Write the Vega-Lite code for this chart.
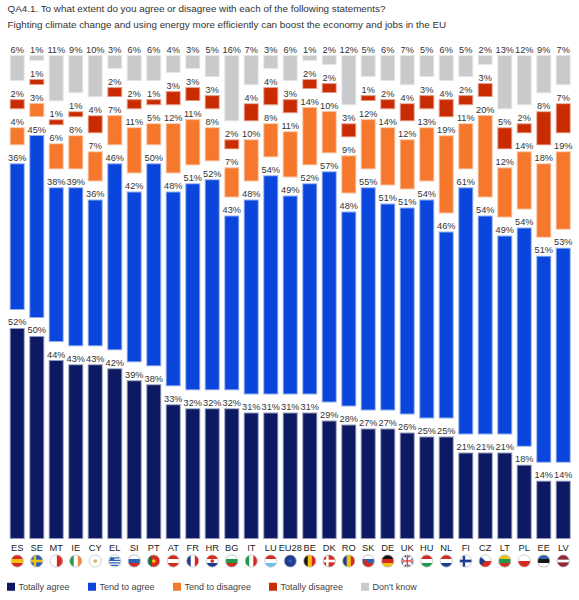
{"$schema":"https://vega.github.io/schema/vega-lite/v6.json","width":565.5,"height":482,"autosize":"none","padding":{"left":7.5,"top":56,"right":6,"bottom":62},"background":"white",
"title":{"text":["QA4.1. To what extent do you agree or disagree with each of the following statements?","Fighting climate change and using energy more efficiently can boost the economy and jobs in the EU"],"anchor":"start","frame":"group","offset":26,"dy":10,"fontSize":9.85,"fontWeight":"normal","font":"Liberation Sans","color":"#333333","lineHeight":16},
"config":{"view":{"stroke":null},"font":"Liberation Sans"},
"datasets":{
"answers":[
{"code":"ES","response":"Totally agree","value":52},{"code":"ES","response":"Tend to agree","value":36},{"code":"ES","response":"Tend to disagree","value":4},{"code":"ES","response":"Totally disagree","value":2},{"code":"ES","response":"Don't know","value":6},
{"code":"SE","response":"Totally agree","value":50},{"code":"SE","response":"Tend to agree","value":45},{"code":"SE","response":"Tend to disagree","value":3},{"code":"SE","response":"Totally disagree","value":1},{"code":"SE","response":"Don't know","value":1},
{"code":"MT","response":"Totally agree","value":44},{"code":"MT","response":"Tend to agree","value":38},{"code":"MT","response":"Tend to disagree","value":6},{"code":"MT","response":"Totally disagree","value":1},{"code":"MT","response":"Don't know","value":11},
{"code":"IE","response":"Totally agree","value":43},{"code":"IE","response":"Tend to agree","value":39},{"code":"IE","response":"Tend to disagree","value":8},{"code":"IE","response":"Totally disagree","value":1},{"code":"IE","response":"Don't know","value":9},
{"code":"CY","response":"Totally agree","value":43},{"code":"CY","response":"Tend to agree","value":36},{"code":"CY","response":"Tend to disagree","value":7},{"code":"CY","response":"Totally disagree","value":4},{"code":"CY","response":"Don't know","value":10},
{"code":"EL","response":"Totally agree","value":42},{"code":"EL","response":"Tend to agree","value":46},{"code":"EL","response":"Tend to disagree","value":7},{"code":"EL","response":"Totally disagree","value":2},{"code":"EL","response":"Don't know","value":3},
{"code":"SI","response":"Totally agree","value":39},{"code":"SI","response":"Tend to agree","value":42},{"code":"SI","response":"Tend to disagree","value":11},{"code":"SI","response":"Totally disagree","value":2},{"code":"SI","response":"Don't know","value":6},
{"code":"PT","response":"Totally agree","value":38},{"code":"PT","response":"Tend to agree","value":50},{"code":"PT","response":"Tend to disagree","value":5},{"code":"PT","response":"Totally disagree","value":1},{"code":"PT","response":"Don't know","value":6},
{"code":"AT","response":"Totally agree","value":33},{"code":"AT","response":"Tend to agree","value":48},{"code":"AT","response":"Tend to disagree","value":12},{"code":"AT","response":"Totally disagree","value":3},{"code":"AT","response":"Don't know","value":4},
{"code":"FR","response":"Totally agree","value":32},{"code":"FR","response":"Tend to agree","value":51},{"code":"FR","response":"Tend to disagree","value":11},{"code":"FR","response":"Totally disagree","value":3},{"code":"FR","response":"Don't know","value":3},
{"code":"HR","response":"Totally agree","value":32},{"code":"HR","response":"Tend to agree","value":52},{"code":"HR","response":"Tend to disagree","value":8},{"code":"HR","response":"Totally disagree","value":3},{"code":"HR","response":"Don't know","value":5},
{"code":"BG","response":"Totally agree","value":32},{"code":"BG","response":"Tend to agree","value":43},{"code":"BG","response":"Tend to disagree","value":7},{"code":"BG","response":"Totally disagree","value":2},{"code":"BG","response":"Don't know","value":16},
{"code":"IT","response":"Totally agree","value":31},{"code":"IT","response":"Tend to agree","value":48},{"code":"IT","response":"Tend to disagree","value":10},{"code":"IT","response":"Totally disagree","value":4},{"code":"IT","response":"Don't know","value":7},
{"code":"LU","response":"Totally agree","value":31},{"code":"LU","response":"Tend to agree","value":54},{"code":"LU","response":"Tend to disagree","value":8},{"code":"LU","response":"Totally disagree","value":4},{"code":"LU","response":"Don't know","value":3},
{"code":"EU28","response":"Totally agree","value":31},{"code":"EU28","response":"Tend to agree","value":49},{"code":"EU28","response":"Tend to disagree","value":11},{"code":"EU28","response":"Totally disagree","value":3},{"code":"EU28","response":"Don't know","value":6},
{"code":"BE","response":"Totally agree","value":31},{"code":"BE","response":"Tend to agree","value":52},{"code":"BE","response":"Tend to disagree","value":14},{"code":"BE","response":"Totally disagree","value":2},{"code":"BE","response":"Don't know","value":1},
{"code":"DK","response":"Totally agree","value":29},{"code":"DK","response":"Tend to agree","value":57},{"code":"DK","response":"Tend to disagree","value":10},{"code":"DK","response":"Totally disagree","value":2},{"code":"DK","response":"Don't know","value":2},
{"code":"RO","response":"Totally agree","value":28},{"code":"RO","response":"Tend to agree","value":48},{"code":"RO","response":"Tend to disagree","value":9},{"code":"RO","response":"Totally disagree","value":3},{"code":"RO","response":"Don't know","value":12},
{"code":"SK","response":"Totally agree","value":27},{"code":"SK","response":"Tend to agree","value":55},{"code":"SK","response":"Tend to disagree","value":12},{"code":"SK","response":"Totally disagree","value":1},{"code":"SK","response":"Don't know","value":5},
{"code":"DE","response":"Totally agree","value":27},{"code":"DE","response":"Tend to agree","value":51},{"code":"DE","response":"Tend to disagree","value":14},{"code":"DE","response":"Totally disagree","value":2},{"code":"DE","response":"Don't know","value":6},
{"code":"UK","response":"Totally agree","value":26},{"code":"UK","response":"Tend to agree","value":51},{"code":"UK","response":"Tend to disagree","value":12},{"code":"UK","response":"Totally disagree","value":4},{"code":"UK","response":"Don't know","value":7},
{"code":"HU","response":"Totally agree","value":25},{"code":"HU","response":"Tend to agree","value":54},{"code":"HU","response":"Tend to disagree","value":13},{"code":"HU","response":"Totally disagree","value":3},{"code":"HU","response":"Don't know","value":5},
{"code":"NL","response":"Totally agree","value":25},{"code":"NL","response":"Tend to agree","value":46},{"code":"NL","response":"Tend to disagree","value":19},{"code":"NL","response":"Totally disagree","value":4},{"code":"NL","response":"Don't know","value":6},
{"code":"FI","response":"Totally agree","value":21},{"code":"FI","response":"Tend to agree","value":61},{"code":"FI","response":"Tend to disagree","value":11},{"code":"FI","response":"Totally disagree","value":2},{"code":"FI","response":"Don't know","value":5},
{"code":"CZ","response":"Totally agree","value":21},{"code":"CZ","response":"Tend to agree","value":54},{"code":"CZ","response":"Tend to disagree","value":20},{"code":"CZ","response":"Totally disagree","value":3},{"code":"CZ","response":"Don't know","value":2},
{"code":"LT","response":"Totally agree","value":21},{"code":"LT","response":"Tend to agree","value":49},{"code":"LT","response":"Tend to disagree","value":12},{"code":"LT","response":"Totally disagree","value":5},{"code":"LT","response":"Don't know","value":13},
{"code":"PL","response":"Totally agree","value":18},{"code":"PL","response":"Tend to agree","value":54},{"code":"PL","response":"Tend to disagree","value":14},{"code":"PL","response":"Totally disagree","value":2},{"code":"PL","response":"Don't know","value":12},
{"code":"EE","response":"Totally agree","value":14},{"code":"EE","response":"Tend to agree","value":51},{"code":"EE","response":"Tend to disagree","value":18},{"code":"EE","response":"Totally disagree","value":8},{"code":"EE","response":"Don't know","value":9},
{"code":"LV","response":"Totally agree","value":14},{"code":"LV","response":"Tend to agree","value":53},{"code":"LV","response":"Tend to disagree","value":19},{"code":"LV","response":"Totally disagree","value":7},{"code":"LV","response":"Don't know","value":7}],
"flags":[
{"code":"ES","part":"disc","hue":"yellow"},{"code":"ES","part":"top","hue":"red"},{"code":"ES","part":"bottom","hue":"red"},
{"code":"SE","part":"disc","hue":"blue"},{"code":"SE","part":"hbar","hue":"yellow"},{"code":"SE","part":"vnordic","hue":"yellow"},
{"code":"MT","part":"disc","hue":"white"},{"code":"MT","part":"rhalf","hue":"red"},
{"code":"IE","part":"disc","hue":"white"},{"code":"IE","part":"left","hue":"green"},{"code":"IE","part":"right","hue":"orange"},
{"code":"CY","part":"disc","hue":"white"},{"code":"CY","part":"dot","hue":"sand"},
{"code":"EL","part":"disc","hue":"white"},{"code":"EL","part":"stripes","hue":"blue"},
{"code":"SI","part":"disc","hue":"blue"},{"code":"SI","part":"top","hue":"white"},{"code":"SI","part":"bottom","hue":"red"},
{"code":"PT","part":"disc","hue":"red"},{"code":"PT","part":"left","hue":"darkgreen"},{"code":"PT","part":"dot","hue":"yellow"},
{"code":"AT","part":"disc","hue":"white"},{"code":"AT","part":"top","hue":"red"},{"code":"AT","part":"bottom","hue":"red"},
{"code":"FR","part":"disc","hue":"white"},{"code":"FR","part":"left","hue":"navy"},{"code":"FR","part":"right","hue":"red"},
{"code":"HR","part":"disc","hue":"white"},{"code":"HR","part":"top","hue":"red"},{"code":"HR","part":"bottom","hue":"navy"},{"code":"HR","part":"dot","hue":"red"},
{"code":"BG","part":"disc","hue":"green"},{"code":"BG","part":"top","hue":"white"},{"code":"BG","part":"bottom","hue":"red"},
{"code":"IT","part":"disc","hue":"white"},{"code":"IT","part":"left","hue":"green"},{"code":"IT","part":"right","hue":"red"},
{"code":"LU","part":"disc","hue":"white"},{"code":"LU","part":"top","hue":"red"},{"code":"LU","part":"bottom","hue":"sky"},
{"code":"EU28","part":"disc","hue":"navy"},{"code":"EU28","part":"dot","hue":"blue"},
{"code":"BE","part":"disc","hue":"yellow"},{"code":"BE","part":"left","hue":"black"},{"code":"BE","part":"right","hue":"red"},
{"code":"DK","part":"disc","hue":"red"},{"code":"DK","part":"hbar","hue":"white"},{"code":"DK","part":"vnordic","hue":"white"},
{"code":"RO","part":"disc","hue":"yellow"},{"code":"RO","part":"left","hue":"navy"},{"code":"RO","part":"right","hue":"red"},
{"code":"SK","part":"disc","hue":"blue"},{"code":"SK","part":"top","hue":"white"},{"code":"SK","part":"bottom","hue":"red"},{"code":"SK","part":"lowdot","hue":"red"},
{"code":"DE","part":"disc","hue":"red"},{"code":"DE","part":"top","hue":"black"},{"code":"DE","part":"bottom","hue":"yellow"},
{"code":"UK","part":"disc","hue":"navy"},{"code":"UK","part":"xcross","hue":"white"},{"code":"UK","part":"hbar","hue":"white"},{"code":"UK","part":"vmid","hue":"white"},{"code":"UK","part":"hthin","hue":"red"},{"code":"UK","part":"vthin","hue":"red"},
{"code":"HU","part":"disc","hue":"white"},{"code":"HU","part":"top","hue":"red"},{"code":"HU","part":"bottom","hue":"green"},
{"code":"NL","part":"disc","hue":"white"},{"code":"NL","part":"top","hue":"red"},{"code":"NL","part":"bottom","hue":"navy"},
{"code":"FI","part":"disc","hue":"white"},{"code":"FI","part":"hbar","hue":"navy"},{"code":"FI","part":"vnordic","hue":"navy"},
{"code":"CZ","part":"disc","hue":"white"},{"code":"CZ","part":"bhalf","hue":"red"},{"code":"CZ","part":"ltri","hue":"navy"},
{"code":"LT","part":"disc","hue":"green"},{"code":"LT","part":"top","hue":"yellow"},{"code":"LT","part":"bottom","hue":"red"},
{"code":"PL","part":"disc","hue":"white"},{"code":"PL","part":"bhalf","hue":"red"},
{"code":"EE","part":"disc","hue":"black"},{"code":"EE","part":"top","hue":"blue"},{"code":"EE","part":"bottom","hue":"white"},
{"code":"LV","part":"disc","hue":"maroon"},{"code":"LV","part":"hbar","hue":"white"}]
},
"data":{"name":"answers"},
"encoding":{"x":{"field":"code","type":"nominal","sort":null,"scale":{"paddingInner":0,"paddingOuter":0,"domain":["ES","SE","MT","IE","CY","EL","SI","PT","AT","FR","HR","BG","IT","LU","EU28","BE","DK","RO","SK","DE","UK","HU","NL","FI","CZ","LT","PL","EE","LV"]},"axis":{"title":null,"domain":false,"ticks":false,"labelAngle":0,"labelFontSize":9.3,"labelColor":"#222222","labelPadding":5,"labelOverlap":false,"labelBound":false,"labelFont":"Liberation Sans"}}},
"layer":[
{"transform":[{"calculate":"indexof(['Totally agree','Tend to agree','Tend to disagree','Totally disagree'],datum.response)","as":"i"},{"calculate":"datum.i<0?4:datum.i","as":"idx"},{"stack":"value","groupby":["code"],"sort":[{"field":"idx","order":"ascending"}],"offset":"normalize","as":["s0","s1"]},{"calculate":"datum.s0*100+datum.idx*4.975","as":"y0"},{"calculate":"datum.s1*100+datum.idx*4.975","as":"y1"},{"calculate":"datum.value+'%'","as":"label"}],
"layer":[
{"mark":{"type":"bar","size":13,"strokeWidth":2,"strokeOpacity":0.45},
"encoding":{"y":{"field":"y0","type":"quantitative","scale":{"domain":[0,119.9],"nice":false,"zero":false},"axis":null},"y2":{"field":"y1"},
"fill":{"field":"response","type":"nominal","sort":null,"scale":{"domain":["Totally agree","Tend to agree","Tend to disagree","Totally disagree","Don't know"],"range":["#0d1a63","#0a46dc","#f5782c","#c92c02","#c9cacc"]},"legend":{"title":null,"orient":"none","legendX":-1,"legendY":526,"direction":"horizontal","columns":5,"columnPadding":17,"symbolType":"square","symbolSize":64,"symbolStrokeWidth":0,"labelFontSize":9,"labelOffset":3,"labelColor":"#444444","labelFont":"Liberation Sans","symbolOpacity":1}},
"stroke":{"field":"response","type":"nominal","scale":{"domain":["Totally agree","Tend to agree","Tend to disagree","Totally disagree","Don't know"],"range":["#0d1a63","#0a46dc","#f5782c","#c92c02","#c9cacc"]},"legend":null}}},
{"mark":{"type":"text","baseline":"bottom","align":"center","fontSize":9.2,"color":"#333333","dy":-1.5,"font":"Liberation Sans"},
"encoding":{"y":{"field":"y1","type":"quantitative"},"text":{"field":"label"}}}
]},
{"data":{"name":"flags"},
"layer":[
{"mark":{"type":"point","filled":true,"size":150,"opacity":1,"yOffset":23,"strokeWidth":0},
"encoding":{"y":{"datum":0,"type":"quantitative"},"shape":{"field":"part","type":"nominal","legend":null,"scale":{"domain":["disc","top","bottom","left","right","rhalf","bhalf","ltri","hbar","vnordic","vmid","hthin","vthin","xcross","dot","lowdot","stripes"],"range":["M-1 0A1 1 0 1 1 1 0A1 1 0 1 1 -1 0Z","M-.943 -.333A1 1 0 0 1 .943 -.333Z","M-.943 .333A1 1 0 0 0 .943 .333Z","M-.333 -.943A1 1 0 0 0 -.333 .943Z","M.333 -.943A1 1 0 0 1 .333 .943Z","M.1 -1A1 1 0 0 1 .1 1Z","M-1 0A1 1 0 0 0 1 0Z","M-.707 -.707L0 0L-.707 .707A1 1 0 0 1 -.707 -.707Z","M-.97 -.22H.97V.22H-.97Z","M-.5 -.87H-.1V.99H-.5Z","M-.2 -.97H.2V.97H-.2Z","M-.98 -.1H.98V.1H-.98Z","M-.1 -.98H.1V.98H-.1Z","M-.85 -.55L.55 .85L.85 .55L-.55 -.85ZM.85 -.55L-.55 .85L-.85 .55L.55 -.85Z","M-.3 0A.3 .3 0 1 1 .3 0A.3 .3 0 1 1 -.3 0Z","M-.65 .05A.3 .3 0 1 1 -.05 .05A.3 .3 0 1 1 -.65 .05Z","M-.8 -.6H.8V-.4H-.8ZM-.97 -.2H.97V0H-.97ZM-.97 .2H.97V.4H-.97ZM-.7 .6H.7V.8H-.7ZM-.8 -.6H-.1V.0H-.8Z"]}},
"color":{"field":"hue","type":"nominal","legend":null,"scale":{"domain":["yellow","red","blue","white","green","orange","sand","darkgreen","navy","sky","black","maroon"],"range":["#f4c20d","#d62a20","#2a62b4","#ffffff","#1e9a4a","#f0883a","#d8b26a","#1f6b3a","#1d3c8f","#6cc4ee","#151515","#8c2b35"]}}}},
{"transform":[{"filter":"datum.part==='disc'"}],"mark":{"type":"point","filled":false,"size":150,"shape":"circle","stroke":"#c4c4c4","strokeWidth":0.8,"opacity":1,"yOffset":23},"encoding":{"y":{"datum":0,"type":"quantitative"}}}
]}
]}
